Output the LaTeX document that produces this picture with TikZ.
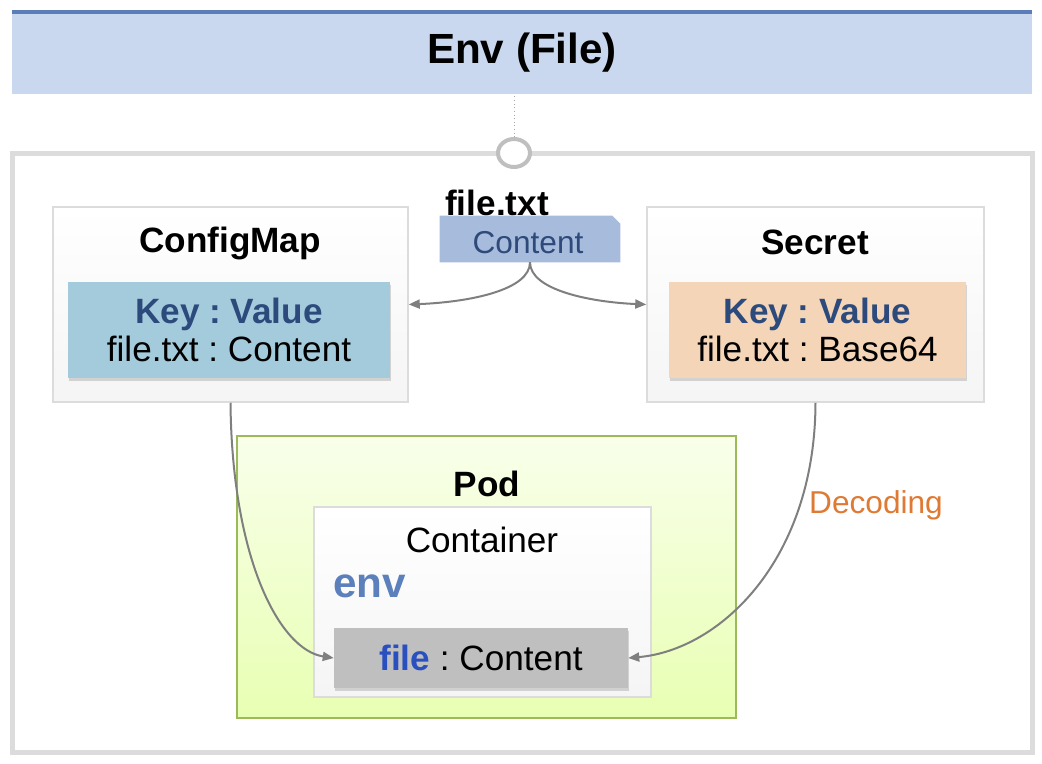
\documentclass[tikz,border=0pt]{standalone}
\usepackage{fontspec}
\setmainfont{Liberation Sans}
\usetikzlibrary{arrows.meta,shadows,shapes.geometric,calc}
\newlength\px \setlength\px{0.025cm}
\frenchspacing
\definecolor{bandfill}{HTML}{C9D8EE}
\definecolor{bandline}{HTML}{5B7DB8}
\definecolor{framegray}{HTML}{DCDCDC}
\definecolor{tabfill}{HTML}{A7BCDD}
\definecolor{tabtext}{HTML}{2E4A7A}
\definecolor{keyblue}{HTML}{2C4A7C}
\definecolor{cmfill}{HTML}{A4CBDC}
\definecolor{secfill}{HTML}{F5D5B8}
\definecolor{podline}{HTML}{9BBB59}
\definecolor{filegray}{HTML}{BFBFBF}
\definecolor{fileblue}{HTML}{2A50C0}
\definecolor{envblue}{HTML}{5B80BB}
\definecolor{decorange}{HTML}{DF7A34}
\definecolor{conngray}{HTML}{7F7F7F}
\tikzset{
  txt/.style={font=\fontsize{25}{26}\selectfont, inner sep=0pt},
  outerbox/.style={draw=framegray, line width=1.5\px, top color=white, bottom color=black!4},
  kvbox/.style={txt, font=\fontsize{25}{27}\selectfont, align=center, drop shadow={shadow xshift=1pt, shadow yshift=-2pt, opacity=0.3}},
  conn/.style={draw=conngray, line width=2\px, -{Triangle[length=7.8pt,width=6.4pt]}}
}
\begin{document}
\begin{tikzpicture}[x=0.025cm, y=-0.025cm]
\useasboundingbox (0,0) rectangle (1042,764);

\node (title) [fill=bandfill, minimum width=1020\px, minimum height=81\px,
  font=\fontsize{30}{32}\selectfont\bfseries] at (522,53) {Env (File)};
\draw[bandline, line width=4\px] (title.north west) -- (title.north east);

\node (frame) [draw=framegray, line width=5\px, minimum width=1020\px, minimum height=599\px] at (522,452.5) {};
\node (port) [ellipse, draw=black!25, line width=4\px, fill=white, minimum width=32\px, minimum height=28\px, inner sep=0pt] at (514,153) {};
\draw[black!35, dotted, line width=0.8\px] (port.north) -- (port |- title.south);

\node (fname) [txt, font=\fontsize{25}{26}\selectfont\bfseries] at (497,203) {file.txt};
\node (content) [txt, minimum width=180\px, minimum height=46\px] at (530,239) {};
\fill[tabfill] (content.north west) -- ($(content.north east)+(-8,0)$) -- ($(content.north east)+(0,8)$)
  -- (content.south east) -- (content.south west) -- cycle;
\node (contenttxt) [txt, font=\fontsize{22.5}{24}\selectfont, text=tabtext] at (528,243) {Content};

\node (cm) [outerbox, minimum width=355\px, minimum height=195\px] at (230.5,304.5) {};
\node (cmtitle) [txt, font=\fontsize{25}{26}\selectfont\bfseries] at (230,243) {ConfigMap};
\node (cmkv) [kvbox, fill=cmfill, minimum width=322\px, minimum height=96\px] at (229,330)
  {{\bfseries\color{keyblue}Key : Value}\\file.txt : Content};

\node (sec) [outerbox, minimum width=337\px, minimum height=195\px] at (815.5,304.5) {};
\node (sectitle) [txt, font=\fontsize{25}{26}\selectfont\bfseries] at (815,242) {Secret};
\node (seckv) [kvbox, fill=secfill, minimum width=297\px, minimum height=96\px] at (817.5,330)
  {{\bfseries\color{keyblue}Key : Value}\\file.txt : Base64};

\node (pod) [draw=podline, line width=2.5\px, top color=green!30!yellow!8, bottom color=green!30!yellow!30,
  minimum width=499\px, minimum height=282\px] at (486.5,577) {};
\node (podtitle) [txt, font=\fontsize{25}{26}\selectfont\bfseries] at (487,484) {Pod};
\node (ctr) [outerbox, minimum width=337\px, minimum height=190\px] at (482.5,602) {};
\node (ctrtitle) [txt] at (482,540) {Container};
\node (env) [txt, anchor=west, font=\fontsize{30}{32}\selectfont\bfseries, text=envblue] at (333,586) {env};
\node (file) [kvbox, fill=filegray, minimum width=294\px, minimum height=60\px] at (481,658)
  {{\bfseries\color{fileblue}file} : Content};

\node (decode) [txt, font=\fontsize{22.5}{24}\selectfont, text=decorange] at (876,505) {Decoding};

\draw[conn] (content.south) .. controls (530,290) and (470,302) .. (cm.east);
\draw[conn] (content.south) .. controls (530,290) and (590,302) .. (sec.west);
\draw[conn] (cm.south) .. controls (232,560) and (280,650) .. (file.west);
\draw[conn] (sec.south) .. controls (815,560) and (720,650) .. (file.east);
\end{tikzpicture}
\end{document}
